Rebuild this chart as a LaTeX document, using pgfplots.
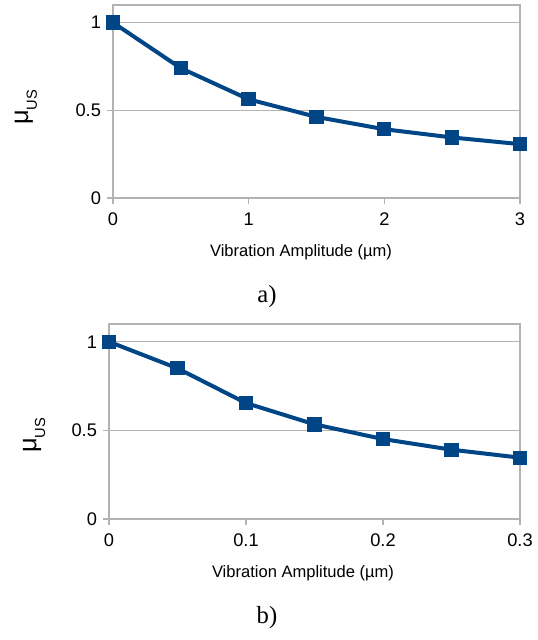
\documentclass[border=0pt]{standalone}
\usepackage{pgfplots}
\pgfplotsset{compat=1.18}
\usepackage{fontspec}
\setmainfont{Liberation Sans}
\newfontfamily\seriffont{Liberation Serif}
\definecolor{lineblue}{HTML}{004586}
\definecolor{gridgray}{HTML}{B3B3B3}
\pgfplotsset{
  mystyle/.style={
    scale only axis,
    anchor=north west,
    ymin=0, ymax=1.1,
    ytick={0,0.5,1},
    ymajorgrids,
    major grid style={gridgray, line width=0.8pt},
    axis line style={gridgray, line width=0.8pt},
    tick style={gridgray, line width=0.8pt},
    tick align=outside,
    major tick length=4.5pt,
    xtick pos=bottom, ytick pos=left,
    /pgf/number format/assume math mode=true,
    tick label style={font=\fontsize{13.7}{15}\selectfont, text=black},
    yticklabel style={xshift=-1pt},
    xticklabel style={yshift=-3pt},
    xlabel={Vibration Amplitude (µm)},
    xlabel style={font=\fontsize{12.4}{13}\selectfont},
    ylabel={μ\raisebox{-0.35em}{\fontsize{11}{11}\selectfont US}},
    ylabel style={font=\fontsize{19}{20}\selectfont, rotate=0},
    clip=false,
  },
  myplot/.style={lineblue, line width=3pt, mark=square*, mark size=5pt,
    mark options={solid, fill=lineblue, draw=lineblue, line width=0pt}},
}
\begin{document}
\begin{tikzpicture}
\useasboundingbox (0,0) rectangle (402.75pt,-480pt);
\begin{axis}[mystyle,
  at={(84.75pt,-3.75pt)},
  width=305.25pt, height=144.75pt,
  xmin=0, xmax=3, xtick={0,1,2,3},
  xlabel style={at={(axis description cs:0.462,0)}, anchor=center, yshift=-40.5pt},
  ylabel style={at={(axis description cs:-0.214,0.47)}, anchor=center},
]
\addplot[myplot] coordinates {
 (0,1) (0.5,0.740) (1,0.5625) (1.5,0.462) (2,0.392) (2.5,0.345) (3,0.307)
};
\end{axis}
\node[font=\seriffont\fontsize{18.5}{20}\selectfont] at (200.25pt,-222.75pt) {a)};
\begin{axis}[mystyle,
  at={(81.75pt,-243pt)},
  width=308.25pt, height=146.25pt,
  xmin=0, xmax=0.3, xtick={0,0.1,0.2,0.3},
  xticklabel style={/pgf/number format/fixed},
  xlabel style={at={(axis description cs:0.472,0)}, anchor=center, yshift=-41pt},
  ylabel style={at={(axis description cs:-0.182,0.43)}, anchor=center},
]
\addplot[myplot] coordinates {
 (0,1) (0.05,0.850) (0.1,0.654) (0.15,0.534) (0.2,0.451) (0.25,0.391) (0.3,0.346)
};
\end{axis}
\node[font=\seriffont\fontsize{18.5}{20}\selectfont] at (200.25pt,-463.5pt) {b)};
\end{tikzpicture}
\end{document}
